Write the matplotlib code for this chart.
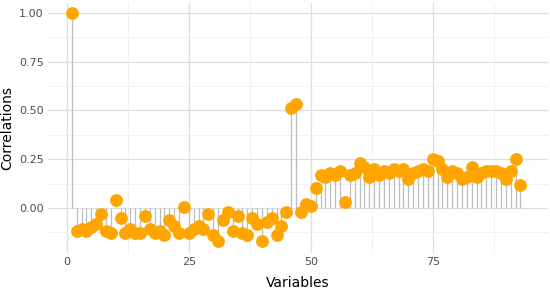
import matplotlib
matplotlib.use('Agg')
import matplotlib.pyplot as plt
import numpy as np

# correlation of each variable with variable 1
corrs = [
    1.00, -0.12, -0.11, -0.12, -0.10, -0.08, -0.03, -0.12, -0.13, 0.04,
    -0.05, -0.13, -0.11, -0.13, -0.13, -0.04, -0.11, -0.13, -0.12, -0.14,
    -0.06, -0.09, -0.13, 0.005, -0.13, -0.11, -0.09, -0.11, -0.03, -0.14,
    -0.17, -0.06, -0.02, -0.12, -0.04, -0.13, -0.14, -0.05, -0.08, -0.17,
    -0.07, -0.05, -0.14, -0.09, -0.02, 0.51, 0.53, -0.02, 0.02, 0.01,
    0.10, 0.17, 0.16, 0.18, 0.17, 0.19, 0.03, 0.17, 0.18, 0.23,
    0.21, 0.16, 0.20, 0.17, 0.19, 0.18, 0.20, 0.19, 0.20, 0.15,
    0.18, 0.19, 0.20, 0.19, 0.25, 0.24, 0.20, 0.16, 0.19, 0.18,
    0.15, 0.16, 0.21, 0.16, 0.18, 0.19, 0.19, 0.19, 0.18, 0.15,
    0.19, 0.25, 0.12,
]
variables = np.arange(1, len(corrs) + 1)

x_ticks = [0, 25, 50, 75]
y_ticks = [0.00, 0.25, 0.50, 0.75, 1.00]

fig = plt.figure(figsize=(5.5, 2.92), dpi=100)
ax = fig.add_axes([0.087, 0.134, 0.909, 0.856])

# ggplot-like minimal grid
for x in x_ticks:
    ax.axvline(x, color='#dedede', lw=0.9, zorder=0)
for x in [12.5, 37.5, 62.5, 87.5]:
    ax.axvline(x, color='#efefef', lw=0.6, zorder=0)
for y in y_ticks:
    ax.axhline(y, color='#dedede', lw=0.9, zorder=0)
for y in [-0.125, 0.125, 0.375, 0.625, 0.875]:
    ax.axhline(y, color='#efefef', lw=0.6, zorder=0)

ax.vlines(variables, 0, corrs, color='#bdbdbd', lw=0.9, zorder=1)
ax.scatter(variables, corrs, s=85, color='#FFA500', zorder=2, linewidths=0)

ax.set_xlim(-3.9, 98.6)
ax.set_ylim(-0.23, 1.05)
ax.set_xticks(x_ticks)
ax.set_yticks(y_ticks)
ax.set_yticklabels([f'{v:.2f}' for v in y_ticks])
ax.tick_params(length=0, labelsize=8, labelcolor='#4d4d4d', pad=3)
for s in ax.spines.values():
    s.set_visible(False)

ax.set_xlabel('Variables', fontsize=10)
ax.set_ylabel('Correlations', fontsize=10)
ax.xaxis.set_label_coords(0.5, -0.092)
ax.yaxis.set_label_coords(-0.067, 0.5)

plt.savefig('out.png', dpi=100)
